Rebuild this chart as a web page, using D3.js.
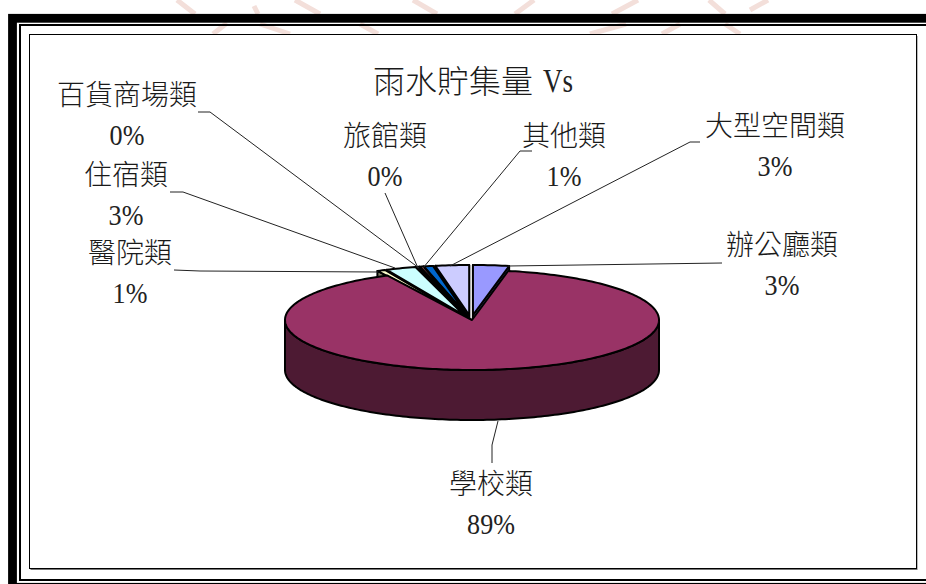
<!DOCTYPE html>
<html>
<head>
<meta charset="utf-8">
<script src="https://cdn.jsdelivr.net/npm/d3@7"></script>
<style>
  html, body { margin: 0; padding: 0; background: #fff; }
  svg { display: block; }
  text { font-family: "Noto Sans CJK TC", "Liberation Serif", serif; font-weight: 300; fill: #1a1a1a; }
  text.latin { font-family: "Liberation Serif", serif; font-weight: 400; fill: #222; }
</style>
</head>
<body>
<svg id="chart" width="926" height="584"></svg>
<script>
const chartTitle = ['雨水貯集量', 'Vs'];
// clockwise from 12 o'clock
const categories = ['辦公廳類', '學校類', '醫院類', '住宿類', '百貨商場類', '旅館類', '其他類', '大型空間類'];
const values = [3.1, 89.4, 0.7, 2.6, 0.2, 0.3, 0.8, 2.9];
const colors = ['#9999ff', '#993366', '#ffffcc', '#ccffff', '#660066', '#ff8080', '#0066cc', '#ccccff'];
const labelAnchors = [[782, 255], [491, 494], [130, 263], [126, 185], [127, 105], [385, 146], [564, 146], [775, 136]];
const leaderLines = [
    [[722, 263], [508, 266]],
    [[498, 421], [492, 445], [492, 463]],
    [[174, 270], [200, 271], [378, 272]],
    [[170, 192], [183, 192], [395, 268]],
    [[198, 112], [210, 112], [419, 268]],
    [[385, 193], [418, 268]],
    [[532, 151], [520, 151], [423, 268]],
    [[700, 142], [690, 142], [450, 266]]
];
// faint scan watermark showing round the frame
const watermark = [
    [[177, 0], [195, 14]], [[254, 6], [258, 14]], [[295, 0], [320, 14]], [[413, 0], [437, 14]],
    [[534, 0], [515, 14]], [[638, 0], [612, 14]], [[709, 0], [725, 14]], [[768, 0], [750, 10]],
    [[213, 34], [227, 23]], [[260, 24], [290, 34]], [[360, 24], [378, 34]], [[590, 34], [626, 24]],
    [[662, 34], [680, 24]], [[725, 24], [740, 34]]
];

const svg = d3.select('#chart');
const total = d3.sum(values);

const center = { x: 472, y: 320 };
const radiusX = 187;
const radiusY = 50;
const depth = 50;
const explodeX = 20;
const explodeY = 5;

const line = d3.line();

svg.append('g')
    .selectAll('path')
    .data(watermark)
    .join('path')
    .attr('d', (d) => line(d))
    .attr('fill', 'none')
    .attr('stroke', '#f3dfda')
    .attr('stroke-width', 5);

// Frames
const frame = svg.append('g').attr('fill', 'none').attr('stroke', '#000');
frame.append('rect').attr('x', 12.5).attr('y', 18.3).attr('width', 930).attr('height', 569).attr('stroke-width', 8.8);
frame.append('rect').attr('x', 20).attr('y', 25).attr('width', 930).attr('height', 555).attr('stroke-width', 2);
svg.append('rect').attr('x', 30.5).attr('y', 36).attr('width', 887).attr('height', 534).attr('fill', '#777');
svg.append('rect').attr('x', 29.5).attr('y', 34.5).attr('width', 887).attr('height', 534).attr('fill', '#fff').attr('stroke', '#000').attr('stroke-width', 1);

// Pie layout, starts at 12 o'clock and runs clockwise
const pie = d3.pie().value((d) => d).sort(null);
const slices = pie(values).map((d, i) => ({ ...d, index: i, name: categories[i], color: colors[i] }));

const project = (angle, ox, oy, dy = 0) => [
    ox + radiusX * Math.sin(angle),
    oy - radiusY * Math.cos(angle) + dy
];

const arcPoints = (a0, a1, ox, oy, dy = 0) => {
    const steps = Math.max(2, Math.ceil((a1 - a0) / 0.02));
    return d3.range(steps + 1).map((k) => project(a0 + ((a1 - a0) * k) / steps, ox, oy, dy));
};

function drawFace(group, points, fill) {
    group
        .append('path')
        .attr('d', line(points) + 'Z')
        .attr('fill', fill)
        .attr('stroke', '#000')
        .attr('stroke-width', 2)
        .attr('stroke-linejoin', 'round');
}

function drawSlice(slice, exploded) {
    const mid = (slice.startAngle + slice.endAngle) / 2;
    const ox = center.x + (exploded ? explodeX * Math.sin(mid) - 1 : 0);
    const oy = center.y - (exploded ? explodeY * Math.cos(mid) : 0);
    const group = svg.append('g').attr('class', 'slice');
    const base = d3.rgb(slice.color);
    const sideColor = d3.rgb(base.r / 2, base.g / 2, base.b / 2).formatHex();

    if (exploded) {
        [slice.startAngle, slice.endAngle].forEach((a) => {
            const p = project(a, ox, oy);
            drawFace(group, [[ox, oy], p, [p[0], p[1] + depth], [ox, oy + depth]], sideColor);
        });
    } else {
        // front rim, from 3 o'clock round to 9 o'clock
        const rimStart = Math.PI / 2;
        const rimEnd = (3 * Math.PI) / 2;
        const topRim = arcPoints(rimStart, rimEnd, ox, oy);
        const lowRim = arcPoints(rimStart, rimEnd, ox, oy, depth).reverse();
        drawFace(group, topRim.concat(lowRim), sideColor);
    }
    drawFace(group, [[ox, oy]].concat(arcPoints(slice.startAngle, slice.endAngle, ox, oy)), slice.color);
}

// Back slices first, the school slice covers what hangs below the small ones
[7, 6, 5, 4, 3, 2, 0].forEach((i) => drawSlice(slices[i], true));
drawSlice(slices[1], false);

// Leader lines
svg.append('g')
    .selectAll('path')
    .data(leaderLines)
    .join('path')
    .attr('d', (d) => line(d))
    .attr('fill', 'none')
    .attr('stroke', '#222')
    .attr('stroke-width', 1);

// Title
svg.append('text')
    .attr('x', 373)
    .attr('y', 92.5)
    .attr('font-size', 32)
    .text(chartTitle[0]);
svg.append('text')
    .attr('class', 'latin')
    .attr('transform', 'translate(543,92) scale(0.82,1)')
    .attr('font-size', 33)
    .text(chartTitle[1]);

// Labels: name over percent
const labels = svg.append('g')
    .selectAll('g')
    .data(slices)
    .join('g')
    .attr('transform', (d) => `translate(${labelAnchors[d.index][0]},${labelAnchors[d.index][1]})`)
    .attr('text-anchor', 'middle');

labels.append('text').attr('font-size', 28).text((d) => d.name);
labels.append('text')
    .attr('class', 'latin')
    .attr('transform', 'translate(0,39.5) scale(0.87,1)')
    .attr('font-size', 30)
    .text((d) => `${Math.round((d.value / total) * 100)}%`);
</script>
</body>
</html>
